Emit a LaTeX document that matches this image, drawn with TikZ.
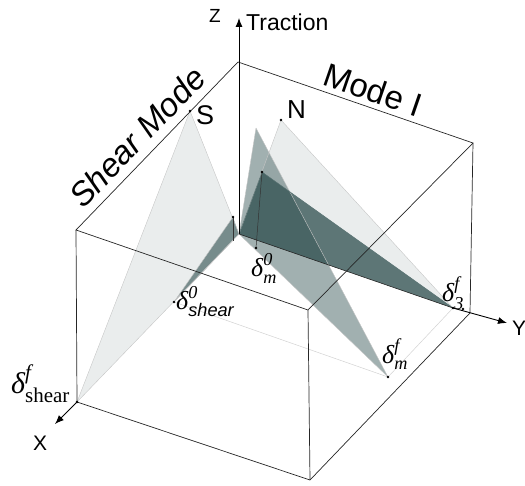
\documentclass[tikz,border=0pt]{standalone}
\usepackage{fontspec}
\usepackage{amsmath}
\setmainfont{Liberation Sans}
\newfontfamily\serif{Liberation Serif}
\usetikzlibrary{arrows.meta}
\definecolor{teal0}{RGB}{47,79,79}
\newcommand{\dlab}[2]{$\text{\serif\itshape δ}^{\text{\serif\itshape #1}}_{#2}$}
\begin{document}
\begin{tikzpicture}[x=1pt,y=-1pt,
  lbl/.style={inner sep=0pt, anchor=base west},
  tedge/.style={draw=gray!45, line width=0.4pt},
  dedge/.style={draw=teal0!80, line width=0.5pt},
  boxline/.style={draw=black!85, line width=0.7pt},
  faint/.style={draw=gray!35, line width=0.5pt},
  dotmark/.style={circle, fill=black, inner sep=0pt, minimum size=2.6pt},
  lightf/.style={fill=teal0, fill opacity=0.1},
  midf/.style={fill=teal0, fill opacity=0.45},
  darkf/.style={fill=teal0, fill opacity=0.75},
  axarrow/.style={-{Latex[length=9pt,width=7pt]}, line width=0.9pt, black}]
\useasboundingbox (0,0) rectangle (525,486);
% box corners
\coordinate (O) at (239,234);
\coordinate (T0) at (238,62);
\coordinate (TL) at (76,230);
\coordinate (TR) at (473,143);
\coordinate (TF) at (308,310);
\coordinate (BL) at (77,402);
\coordinate (BF) at (310,480);
\coordinate (BR) at (470,313);
\coordinate (Ztip) at (239,18);
\coordinate (Xtip) at (55,424);
\coordinate (Ytip) at (507,323);
% curve points
\coordinate (pS) at (190,111);
\coordinate (pN) at (281,120);
\coordinate (pA) at (256,128);
\coordinate (pP) at (262,172);
\coordinate (pB) at (233,217);
\coordinate (pBx) at (233,241);
\coordinate (pm0) at (256,248);
\coordinate (ps0) at (174,302);
\coordinate (pmf) at (388,377);
\coordinate (p3f) at (453,308);
\coordinate (p3b) at (463,309);
% fills
\fill[lightf] (pS) -- (O) -- (BL) -- cycle;
\fill[lightf] (pN) -- (O) -- (p3f) -- cycle;
\fill[midf] (pA) -- (O) -- (pmf) -- cycle;
\fill[midf] (pB) -- (O) -- (ps0) -- cycle;
\begin{scope}
  \clip (pS) -- (O) -- (BL) -- cycle;
  \fill[teal0, fill opacity=0.3] (pB) -- (O) -- (ps0) -- cycle;
\end{scope}
\fill[darkf] (pP) -- (O) -- (p3f) -- cycle;
% triangle edges
\draw[tedge] (pS) -- (O) -- (BL) -- cycle;
\draw[tedge] (pN) -- (O) (pN) -- (p3f);
\draw[tedge] (pA) -- (O) (pA) -- (pmf) -- (O);
\draw[tedge] (pB) -- (ps0) -- (O);
\draw[dedge] (pP) -- (p3f);
\draw[dedge] (pP) -- (O);
% projection lines
\draw[faint] (ps0) -- (pmf) -- (p3f);
\draw[black!80, line width=0.5pt] (pP) -- (pm0);
\draw[black!80, line width=0.5pt] (pB) -- (pBx);
% box
\draw[boxline] (T0) -- (TL) -- (TF) -- (TR) -- cycle;
\draw[boxline] (TL) -- (BL) -- (BF) -- (BR) -- (TR);
\draw[boxline] (TF) -- (BF);
% axes
\draw[axarrow] (O) -- (Ztip);
\draw[axarrow] (BL) -- (Xtip);
\draw[black!85, line width=0.6pt] (O) -- (p3f);
\draw[axarrow] (p3f) -- (Ytip);
% dots
\foreach \p in {pS,pN,pP,pB,pm0,ps0,pmf,p3f,p3b,BL}
  \node[dotmark] (d\p) at (\p) {};
% labels
\node[lbl, font=\fontsize{19}{19}\selectfont] (zl) at (209,23) {Z};
\node[lbl, font=\fontsize{23}{23}\selectfont] (tl) at (246,31) {Traction};
\node[lbl, font=\fontsize{21}{21}\selectfont] (xl) at (33,450) {X};
\node[lbl, font=\fontsize{21}{21}\selectfont] (yl) at (512,336) {Y};
\node[lbl, font=\fontsize{27}{27}\selectfont] (sl) at (196,125) {S};
\node[lbl, font=\fontsize{26}{26}\selectfont] (nl) at (287,119) {N};
\node[inner sep=0pt, rotate=-19, font=\fontsize{33}{33}\selectfont] (ml) at (373,90) {Mode I};
\node[inner sep=0pt, rotate=46, font=\fontsize{33}{33}\selectfont\itshape] (shl) at (137,137) {Shear Mode};
\node[lbl, font=\fontsize{26}{26}\selectfont] (l1) at (176,310) {\dlab{0}{\text{\itshape shear}}};
\node[lbl, font=\fontsize{26}{26}\selectfont] (l2) at (251,277) {\dlab{0}{\text{\serif\itshape m}}};
\node[lbl, font=\fontsize{26}{26}\selectfont] (l3) at (442,302) {\dlab{f}{\text{\serif\itshape 3}}};
\node[lbl, font=\fontsize{26}{26}\selectfont] (l4) at (382,363) {\dlab{f}{\text{\serif\itshape m}}};
\node[lbl, font=\fontsize{30}{30}\selectfont] (l5) at (11,393) {\dlab{f}{\text{\serif shear}}};
\end{tikzpicture}
\end{document}
